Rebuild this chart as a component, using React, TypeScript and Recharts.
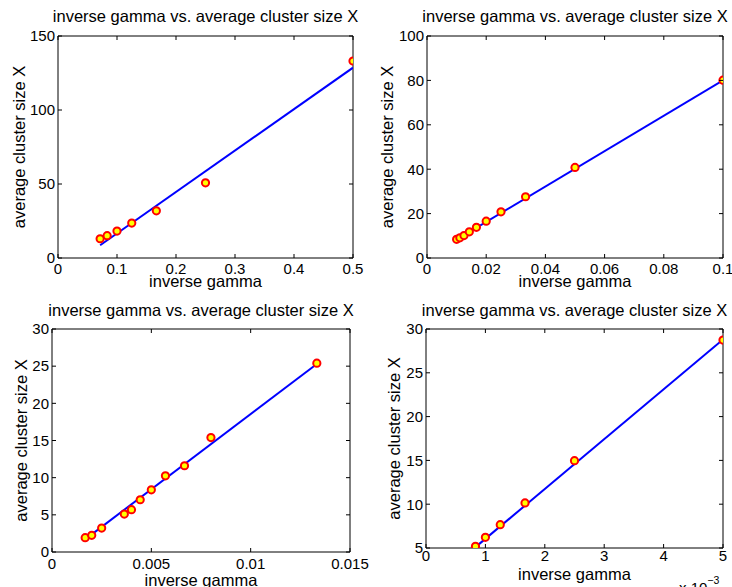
import { ScatterChart, Scatter, XAxis, YAxis, Label } from "recharts";

const FONT = "'Liberation Sans', Arial, Helvetica, sans-serif";
const TITLE = "inverse gamma vs. average cluster size X";
const XLABEL = "inverse gamma";
const YLABEL = "average cluster size X";

// top left
const invGammaA = [0.0714, 0.0833, 0.1, 0.125, 0.1667, 0.25, 0.5];
const clusterA = [13.0, 15.1, 18.2, 23.6, 31.9, 50.8, 133.1];
const fitXA = [0.0714, 0.5];
const fitYA = [8.6, 128.6];
const xTicksA = [0, 0.1, 0.2, 0.3, 0.4, 0.5];
const yTicksA = [0, 50, 100, 150];

// top right
const invGammaB = [0.01, 0.0111, 0.0125, 0.0143, 0.0167, 0.02, 0.025, 0.0333, 0.05, 0.1];
const clusterB = [8.4, 9.1, 10.1, 11.8, 13.8, 16.6, 20.8, 27.6, 40.8, 80.1];
const fitXB = [0.01, 0.1];
const fitYB = [8.3, 80.0];
const xTicksB = [0, 0.02, 0.04, 0.06, 0.08, 0.1];
const yTicksB = [0, 20, 40, 60, 80, 100];

// bottom left
const invGammaC = [0.00167, 0.002, 0.0025, 0.00364, 0.004, 0.00444, 0.005, 0.00571, 0.00667, 0.008, 0.01333];
const clusterC = [1.93, 2.24, 3.22, 5.1, 5.69, 7.03, 8.37, 10.25, 11.6, 15.4, 25.4];
const fitXC = [0.00167, 0.01333];
const fitYC = [1.7, 25.3];
const xTicksC = [0, 0.005, 0.01, 0.015];
const yTicksC = [0, 5, 10, 15, 20, 25, 30];

// bottom right (x axis shown in units of 1e-3)
const invGammaD = [0.000833, 0.001, 0.00125, 0.001667, 0.0025, 0.005];
const clusterD = [5.19, 6.22, 7.66, 10.14, 14.97, 28.74];
const fitXD = [0.000833, 0.005];
const fitYD = [5.1, 28.8];
const xTicksD = [0, 0.001, 0.002, 0.003, 0.004, 0.005];
const yTicksD = [5, 10, 15, 20, 25, 30];

const zip = (xs: number[], ys: number[]) => xs.map((x, i) => ({ x, y: ys[i] }));

const Dot = (p: any) => (
  <circle cx={p.cx} cy={p.cy} r={3.6} fill="#ffff00" stroke="#ff0000" strokeWidth={2} />
);
const NoDot = () => <g />;
const TICK = 4;

const labelStyle = { fontSize: 16.5, fill: "#000", fontFamily: FONT };

// matlab style: tick marks point inward on all four sides
const makeTick = (side: string, gap: number, fmt?: (v: number) => string) => (props: any) => {
  const { x, y, payload } = props;
  const v = payload.value;
  const txt = fmt ? fmt(v) : String(v);
  if (side === "bottom") {
    const ay = y - gap;
    return (
      <g>
        <line x1={x} x2={x} y1={ay} y2={ay - TICK} stroke="#000" />
        <text x={x} y={y} dy="0.71em" textAnchor="middle" fontSize={15} fontFamily={FONT} fill="#000">
          {txt}
        </text>
      </g>
    );
  }
  if (side === "left") {
    const ax = x + gap;
    return (
      <g>
        <line x1={ax} x2={ax + TICK} y1={y} y2={y} stroke="#000" />
        <text x={x} y={y} dy="0.355em" textAnchor="end" fontSize={15} fontFamily={FONT} fill="#000">
          {txt}
        </text>
      </g>
    );
  }
  if (side === "top") return <line x1={x} x2={x} y1={y} y2={y + TICK} stroke="#000" />;
  return <line x1={x - TICK} x2={x} y1={y} y2={y} stroke="#000" />;
};

type PanelProps = {
  points: { x: number; y: number }[];
  fit: { x: number; y: number }[];
  xTicks: number[];
  yTicks: number[];
  margin: { top: number; right: number; bottom: number; left: number };
  titleOffset: number;
  xLabelOffset: number;
  yLabelOffset: number;
  xTickMargin: number;
  xFormat?: (v: number) => string;
  exponent?: boolean;
};

function Exponent(props: any) {
  const vb = props.viewBox;
  return (
    <text x={vb.x + vb.width - 44} y={vb.y + 45} fontSize={15} fontFamily={FONT} fill="#000">
      x 10
      <tspan dy={-9} fontSize={10.5}>
        −3
      </tspan>
    </text>
  );
}

function Panel(p: PanelProps) {
  const xDomain = [p.xTicks[0], p.xTicks[p.xTicks.length - 1]];
  const yDomain = [p.yTicks[0], p.yTicks[p.yTicks.length - 1]];
  // top and right axes are 1px wide so they still get drawn
  const m = { ...p.margin, top: p.margin.top - 1, right: p.margin.right - 1 };
  return (
    <div style={{ position: "absolute", left: 0, top: 0 }}>
      <ScatterChart width={732} height={587} margin={m}>
        <XAxis
          xAxisId="b"
          type="number"
          dataKey="x"
          domain={xDomain}
          ticks={p.xTicks}
          interval={0}
          allowDataOverflow
          height={30}
          tickSize={0}
          tickMargin={p.xTickMargin}
          tick={makeTick("bottom", p.xTickMargin, p.xFormat)}
          tickLine={false}
          axisLine={{ stroke: "#000" }}
        >
          <Label value={XLABEL} position="insideBottom" offset={p.xLabelOffset} style={labelStyle} />
          {p.exponent && <Label content={Exponent} />}
        </XAxis>
        <XAxis
          xAxisId="t"
          orientation="top"
          type="number"
          dataKey="x"
          domain={xDomain}
          ticks={p.xTicks}
          interval={0}
          allowDataOverflow
          height={1}
          tickSize={0}
          tickMargin={0}
          tick={makeTick("top", 0)}
          tickLine={false}
          axisLine={{ stroke: "#000" }}
        >
          <Label value={TITLE} position="top" offset={p.titleOffset - 1} style={labelStyle} />
        </XAxis>
        <YAxis
          yAxisId="l"
          type="number"
          dataKey="y"
          domain={yDomain}
          ticks={p.yTicks}
          interval={0}
          allowDataOverflow
          width={50}
          tickSize={0}
          tickMargin={3}
          tick={makeTick("left", 3)}
          tickLine={false}
          axisLine={{ stroke: "#000" }}
        >
          <Label
            value={YLABEL}
            angle={-90}
            position="insideLeft"
            offset={p.yLabelOffset}
            style={{ ...labelStyle, textAnchor: "middle" }}
          />
        </YAxis>
        <YAxis
          yAxisId="r"
          orientation="right"
          type="number"
          dataKey="y"
          domain={yDomain}
          ticks={p.yTicks}
          interval={0}
          allowDataOverflow
          width={1}
          tickSize={0}
          tickMargin={0}
          tick={makeTick("right", 0)}
          tickLine={false}
          axisLine={{ stroke: "#000" }}
        />
        <Scatter
          xAxisId="t"
          yAxisId="r"
          data={p.fit}
          line={{ stroke: "#0000ff", strokeWidth: 2 }}
          shape={NoDot}
          isAnimationActive={false}
        />
        <Scatter xAxisId="b" yAxisId="l" data={p.points} shape={Dot} isAnimationActive={false} />
      </ScatterChart>
    </div>
  );
}

export default function App() {
  return (
    <div
      style={{
        position: "absolute",
        left: 0,
        top: 0,
        width: 732,
        height: 587,
        overflow: "hidden",
        background: "#fff",
        fontFamily: FONT,
      }}
    >
      <Panel
        points={zip(invGammaA, clusterA)}
        fit={zip(fitXA, fitYA)}
        xTicks={xTicksA}
        yTicks={yTicksA}
        margin={{ left: 8, right: 379, top: 36, bottom: 299 }}
        titleOffset={14}
        xLabelOffset={1}
        yLabelOffset={11}
        xTickMargin={5}
      />
      <Panel
        points={zip(invGammaB, clusterB)}
        fit={zip(fitXB, fitYB)}
        xTicks={xTicksB}
        yTicks={yTicksB}
        margin={{ left: 377, right: 9, top: 36, bottom: 299 }}
        titleOffset={14}
        xLabelOffset={1}
        yLabelOffset={10}
        xTickMargin={5}
      />
      <Panel
        points={zip(invGammaC, clusterC)}
        fit={zip(fitXC, fitYC)}
        xTicks={xTicksC}
        yTicks={yTicksC}
        margin={{ left: 2, right: 382, top: 329, bottom: 5 }}
        titleOffset={13}
        xLabelOffset={-4}
        yLabelOffset={19}
        xTickMargin={6}
      />
      <Panel
        points={zip(invGammaD, clusterD)}
        fit={zip(fitXD, fitYD)}
        xTicks={xTicksD}
        yTicks={yTicksD}
        margin={{ left: 376, right: 9, top: 329, bottom: 9 }}
        titleOffset={13}
        xLabelOffset={-2}
        yLabelOffset={18}
        xTickMargin={2}
        xFormat={(v: number) => String(Math.round(v * 1000))}
        exponent
      />
    </div>
  );
}
